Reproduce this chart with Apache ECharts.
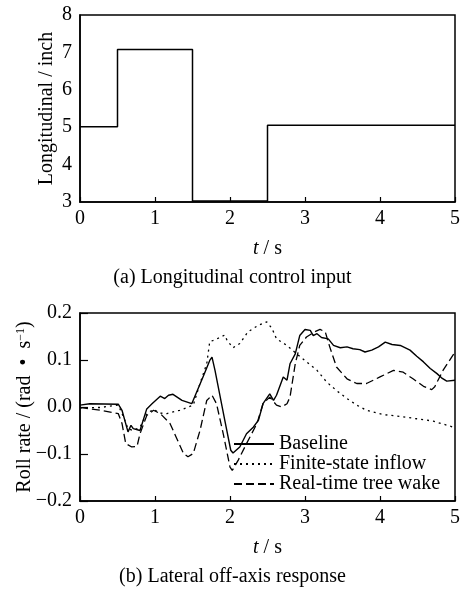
<!DOCTYPE html>
<html>
<head>
<meta charset="utf-8">
<script src="https://cdn.jsdelivr.net/npm/echarts@6/dist/echarts.min.js"></script>
<style>
  html, body { margin: 0; padding: 0; background: #fff; }
  #chart { width: 465px; height: 590px; }
</style>
</head>
<body>
<div id="chart"></div>
<script>
// (a) longitudinal control input, step signal
const inputTime = [0, 0.5, 0.5, 1.5, 1.5, 2.5, 2.5, 5]
const inputValue = [5.01, 5.01, 7.08, 7.08, 3.03, 3.03, 5.05, 5.05]

// (b) roll rate, baseline
const baseTime = [0, 0.13, 0.51, 0.56, 0.64, 0.68, 0.71, 0.8, 0.89, 0.96, 1.07, 1.13, 1.18, 1.24, 1.36, 1.49, 1.51, 1.64, 1.73, 1.76, 1.8, 1.87, 1.93, 2.01, 2.04, 2.13, 2.22, 2.31, 2.38, 2.44, 2.53, 2.58, 2.62, 2.71, 2.76, 2.8, 2.87, 2.93, 3.0, 3.07, 3.11, 3.16, 3.22, 3.31, 3.38, 3.47, 3.56, 3.64, 3.73, 3.8, 3.89, 3.98, 4.07, 4.16, 4.27, 4.4, 4.49, 4.58, 4.67, 4.76, 4.82, 4.89, 5.0]
const baseValue = [0.004, 0.007, 0.006, -0.007, -0.053, -0.039, -0.046, -0.05, -0.004, 0.007, 0.023, 0.018, 0.025, 0.027, 0.014, 0.007, 0.007, 0.064, 0.099, 0.106, 0.078, 0.021, -0.028, -0.092, -0.098, -0.085, -0.057, -0.043, -0.028, 0.007, 0.028, 0.014, 0.025, 0.064, 0.057, 0.092, 0.113, 0.152, 0.165, 0.163, 0.152, 0.156, 0.148, 0.145, 0.131, 0.126, 0.128, 0.124, 0.122, 0.117, 0.121, 0.128, 0.138, 0.133, 0.131, 0.121, 0.108, 0.096, 0.082, 0.071, 0.062, 0.055, 0.057]

// (b) finite-state inflow
const finiteTime = [0, 0.27, 0.51, 0.58, 0.64, 0.71, 0.8, 0.89, 0.98, 1.07, 1.16, 1.33, 1.51, 1.6, 1.69, 1.73, 1.8, 1.93, 1.96, 2.04, 2.13, 2.24, 2.38, 2.49, 2.56, 2.62, 2.76, 2.89, 3.02, 3.16, 3.29, 3.42, 3.56, 3.69, 3.82, 4.04, 4.27, 4.49, 4.71, 5.0]
const finiteValue = [-0.002, -0.001, 0.004, -0.021, -0.046, -0.05, -0.043, -0.014, -0.005, -0.013, -0.014, -0.007, 0.004, 0.05, 0.092, 0.139, 0.143, 0.153, 0.142, 0.126, 0.135, 0.16, 0.174, 0.181, 0.167, 0.145, 0.131, 0.113, 0.096, 0.078, 0.053, 0.035, 0.018, 0.004, -0.007, -0.016, -0.02, -0.025, -0.03, -0.044]

// (b) real-time tree wake
const wakeTime = [0, 0.27, 0.51, 0.56, 0.61, 0.69, 0.76, 0.8, 0.89, 0.98, 1.07, 1.2, 1.29, 1.38, 1.44, 1.51, 1.6, 1.69, 1.76, 1.82, 1.91, 2.0, 2.03, 2.11, 2.22, 2.36, 2.44, 2.53, 2.62, 2.69, 2.76, 2.8, 2.87, 2.93, 3.02, 3.13, 3.2, 3.27, 3.33, 3.42, 3.56, 3.69, 3.82, 4.0, 4.18, 4.31, 4.44, 4.58, 4.69, 4.73, 4.84, 5.0]
const wakeValue = [-0.001, -0.007, -0.014, -0.035, -0.078, -0.085, -0.084, -0.057, -0.018, -0.007, -0.014, -0.035, -0.067, -0.099, -0.106, -0.099, -0.05, 0.014, 0.025, 0.007, -0.057, -0.128, -0.135, -0.113, -0.078, -0.035, 0.007, 0.021, 0.004, 0.0, 0.007, 0.021, 0.092, 0.131, 0.149, 0.16, 0.165, 0.16, 0.128, 0.085, 0.06, 0.05, 0.05, 0.064, 0.078, 0.074, 0.06, 0.044, 0.037, 0.043, 0.078, 0.117]

const xTicks = [0, 1, 2, 3, 4, 5]

const FONT = '"Liberation Serif", "Times New Roman", serif'
const pairs = (t, v) => t.map((x, i) => [x, v[i]])

const chart = echarts.init(document.getElementById('chart'))

const axisLine = { show: true, onZero: false, lineStyle: { color: '#000', width: 1.5 } }
const labelStyle = { color: '#000', fontFamily: FONT, fontSize: 20 }
const nameStyle = { color: '#000', fontFamily: FONT, fontSize: 20 }

const xAxisBase = (gi) => ({
  type: 'value',
  gridIndex: gi,
  min: xTicks[0],
  max: xTicks[xTicks.length - 1],
  interval: 1,
  axisLine: axisLine,
  axisTick: { show: true, inside: true, length: 5, lineStyle: { color: '#000', width: 1.2 } },
  axisLabel: Object.assign({ margin: 7 }, labelStyle),
  splitLine: { show: false },
  name: '{i|t} / s',
  nameLocation: 'middle',
  nameGap: 37,
  nameMoveOverlap: false,
  nameTextStyle: Object.assign({}, nameStyle, {
    rich: { i: { fontStyle: 'italic', fontFamily: FONT, fontSize: 20, color: '#000' } }
  })
})

const option = {
  backgroundColor: '#fff',
  animation: false,
  grid: [
    { left: 80, top: 15, width: 375, height: 187, outerBoundsMode: 'none', show: true, borderColor: '#000', borderWidth: 1.5, backgroundColor: 'transparent' },
    { left: 80, top: 313, width: 375, height: 188, outerBoundsMode: 'none', show: true, borderColor: '#000', borderWidth: 1.5, backgroundColor: 'transparent' }
  ],
  xAxis: [xAxisBase(0), xAxisBase(1)],
  yAxis: [
    {
      type: 'value', gridIndex: 0, min: 3, max: 8, interval: 1,
      axisLine: axisLine,
      axisTick: { show: false },
      axisLabel: Object.assign({ margin: 8 }, labelStyle),
      splitLine: { show: false },
      name: 'Longitudinal / inch',
      nameLocation: 'middle',
      nameGap: 23,
      nameMoveOverlap: false,
      nameTextStyle: nameStyle
    },
    {
      type: 'value', gridIndex: 1, min: -0.2, max: 0.2, interval: 0.1,
      axisLine: axisLine,
      axisTick: { show: true, inside: true, length: 8, lineStyle: { color: '#000', width: 1.2 } },
      axisLabel: Object.assign({
        margin: 8,
        formatter: v => (v < -1e-9 ? '\u2212' : '') + Math.abs(v).toFixed(1)
      }, labelStyle),
      splitLine: { show: false },
      name: '{n|Roll rate / (rad  \u2022  s}{s|\u22121}{n|)}',
      nameLocation: 'middle',
      nameGap: 45,
      nameMoveOverlap: false,
      nameTextStyle: Object.assign({}, nameStyle, {
        rich: {
          n: { fontFamily: FONT, fontSize: 20, color: '#000' },
          s: { fontFamily: FONT, fontSize: 12, color: '#000', verticalAlign: 'top', lineHeight: 12 }
        }
      })
    }
  ],
  legend: {
    orient: 'vertical',
    left: 233,
    top: 434,
    padding: 0,
    itemWidth: 40,
    itemHeight: 14,
    itemGap: 0,
    data: ['Baseline', 'Finite-state inflow', 'Real-time tree wake'],
    itemStyle: { opacity: 0 },
    textStyle: { color: '#000', fontFamily: FONT, fontSize: 20 }
  },
  series: [
    {
      name: 'Longitudinal input',
      type: 'line',
      xAxisIndex: 0, yAxisIndex: 0,
      data: pairs(inputTime, inputValue),
      symbol: 'none',
      lineStyle: { color: '#000', width: 1.5 }
    },
    {
      name: 'Baseline',
      type: 'line',
      xAxisIndex: 1, yAxisIndex: 1,
      data: pairs(baseTime, baseValue),
      symbol: 'none',
      itemStyle: { color: '#000' },
      lineStyle: { color: '#000', width: 1.4 }
    },
    {
      name: 'Finite-state inflow',
      type: 'line',
      xAxisIndex: 1, yAxisIndex: 1,
      data: pairs(finiteTime, finiteValue),
      symbol: 'none',
      itemStyle: { color: '#000' },
      lineStyle: { color: '#000', width: 1.3, type: [2, 4] }
    },
    {
      name: 'Real-time tree wake',
      type: 'line',
      xAxisIndex: 1, yAxisIndex: 1,
      data: pairs(wakeTime, wakeValue),
      symbol: 'none',
      itemStyle: { color: '#000' },
      lineStyle: { color: '#000', width: 1.3, type: [8, 4] }
    }
  ],
  graphic: [
    {
      type: 'text', left: 'center', top: 268,
      style: { text: '(a) Longitudinal control input', fill: '#000', font: '20px ' + FONT }
    },
    {
      type: 'text', left: 'center', top: 567,
      style: { text: '(b) Lateral off-axis response', fill: '#000', font: '20px ' + FONT }
    }
  ]
}

chart.setOption(option)
</script>
</body>
</html>
